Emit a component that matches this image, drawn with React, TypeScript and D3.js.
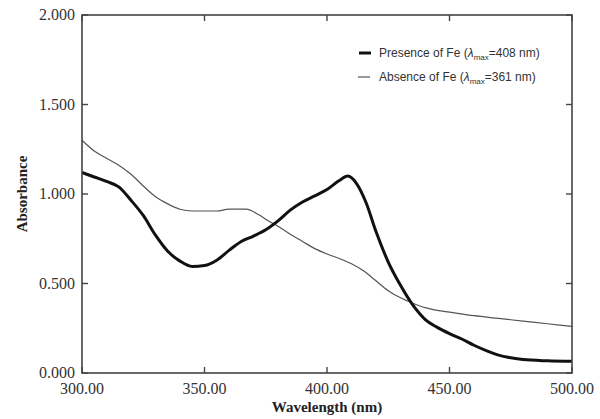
import React from "react";
import * as d3 from "d3";

const presenceWl = [300, 305, 310, 315, 320, 325, 330, 335, 340, 345, 350, 355, 360, 365, 370, 375, 380, 385, 390, 395, 400, 405, 408.5, 412, 416, 420, 425, 430, 435, 440, 445, 450, 455, 460, 465, 470, 475, 480, 490, 500];
const presenceAbs = [1.12, 1.095, 1.07, 1.04, 0.965, 0.88, 0.77, 0.68, 0.625, 0.595, 0.60, 0.63, 0.685, 0.735, 0.765, 0.80, 0.85, 0.91, 0.955, 0.99, 1.025, 1.075, 1.10, 1.06, 0.95, 0.79, 0.62, 0.49, 0.38, 0.30, 0.255, 0.22, 0.19, 0.155, 0.125, 0.10, 0.085, 0.075, 0.068, 0.065];

const absenceWl = [300, 305, 310, 315, 320, 325, 330, 335, 340, 345, 355, 360, 367, 372, 376, 380, 385, 390, 395, 400, 405, 410, 415, 420, 425, 430, 435, 440, 445, 450, 460, 470, 480, 490, 500];
const absenceAbs = [1.30, 1.24, 1.20, 1.16, 1.11, 1.045, 0.985, 0.945, 0.915, 0.905, 0.905, 0.915, 0.915, 0.885, 0.85, 0.82, 0.775, 0.735, 0.695, 0.665, 0.64, 0.61, 0.57, 0.515, 0.46, 0.42, 0.39, 0.365, 0.35, 0.34, 0.32, 0.305, 0.29, 0.275, 0.26];

const xTicks = [300, 350, 400, 450, 500];
const yTicks = [0, 0.5, 1.0, 1.5, 2.0];

export default function App() {
  const W = 600, H = 419;
  const left = 82, right = 572, top = 15, bottom = 373;
  const x = d3.scaleLinear().domain([300, 500]).range([left, right]);
  const y = d3.scaleLinear().domain([0, 2]).range([bottom, top]);
  const line = d3
    .line<[number, number]>()
    .x((d) => x(d[0]))
    .y((d) => y(d[1]))
    .curve(d3.curveMonotoneX);
  const pres = presenceWl.map((w, i) => [w, presenceAbs[i]] as [number, number]);
  const abs = absenceWl.map((w, i) => [w, absenceAbs[i]] as [number, number]);
  const axisColor = "#444";
  const tick = 6;
  return (
    <svg width={W} height={H} style={{ position: "absolute", left: 0, top: 0, background: "#fff" }}>
      <rect x={0} y={0} width={W} height={H} fill="#fff" />
      <path d={line(abs) || ""} fill="none" stroke="#555" strokeWidth={1.2} />
      <path d={line(pres) || ""} fill="none" stroke="#111" strokeWidth={3} strokeLinejoin="round" />
      <rect x={left} y={top} width={right - left} height={bottom - top} fill="none" stroke={axisColor} strokeWidth={1.6} />
      {xTicks.map((t) => (
        <g key={"x" + t}>
          <line x1={x(t)} x2={x(t)} y1={bottom} y2={bottom - tick} stroke={axisColor} strokeWidth={1.4} />
          <line x1={x(t)} x2={x(t)} y1={top} y2={top + tick} stroke={axisColor} strokeWidth={1.4} />
          <text x={x(t)} y={bottom + 21} textAnchor="middle" fontFamily="'Liberation Serif', serif" fontSize={16} fill="#333">
            {t.toFixed(2)}
          </text>
        </g>
      ))}
      {yTicks.map((t) => (
        <g key={"y" + t}>
          <line x1={left} x2={left + tick} y1={y(t)} y2={y(t)} stroke={axisColor} strokeWidth={1.4} />
          <line x1={right} x2={right - tick} y1={y(t)} y2={y(t)} stroke={axisColor} strokeWidth={1.4} />
          <text x={left - 7} y={y(t) + 5} textAnchor="end" fontFamily="'Liberation Serif', serif" fontSize={16} fill="#333">
            {t.toFixed(3)}
          </text>
        </g>
      ))}
      <text x={(left + right) / 2} y={412} textAnchor="middle" fontFamily="'Liberation Serif', serif" fontWeight="bold" fontSize={15} fill="#222">
        Wavelength (nm)
      </text>
      <text transform={`translate(27,${(top + bottom) / 2}) rotate(-90)`} textAnchor="middle" fontFamily="'Liberation Serif', serif" fontWeight="bold" fontSize={15} fill="#222">
        Absorbance
      </text>
      <line x1={359} x2={371} y1={53} y2={53} stroke="#111" strokeWidth={3} />
      <text x={379} y={57} fontFamily="'Liberation Sans', Arial, sans-serif" fontSize={12} fill="#333">
        Presence of Fe (<tspan fontStyle="italic">λ</tspan>
        <tspan fontSize={8} dy={3}>max</tspan>
        <tspan dy={-3}>=408 nm)</tspan>
      </text>
      <line x1={358} x2={370} y1={77} y2={77} stroke="#555" strokeWidth={1.2} />
      <text x={379} y={81} fontFamily="'Liberation Sans', Arial, sans-serif" fontSize={12} fill="#333">
        Absence of Fe (<tspan fontStyle="italic">λ</tspan>
        <tspan fontSize={8} dy={3}>max</tspan>
        <tspan dy={-3}>=361 nm)</tspan>
      </text>
    </svg>
  );
}
